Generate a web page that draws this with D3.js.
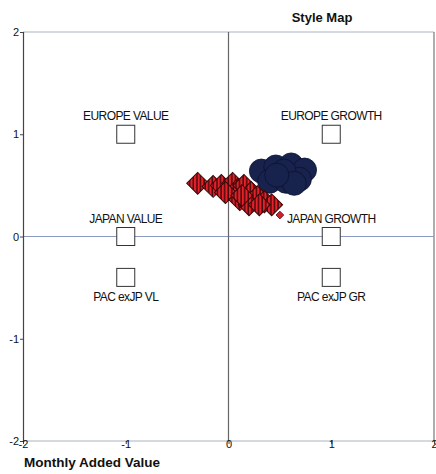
<!DOCTYPE html>
<html><head><meta charset="utf-8">
<script src="https://cdn.jsdelivr.net/npm/d3@7"></script>
<style>
html,body{margin:0;padding:0;background:#fff;}
svg{display:block;font-family:"Liberation Sans",Arial,sans-serif;}
</style></head>
<body><svg id="c" width="436" height="474"></svg>
<script>
// Reference style points
const styleNames = ["EUROPE VALUE","EUROPE GROWTH","JAPAN VALUE","JAPAN GROWTH","PAC exJP VL","PAC exJP GR"];
const styleX = [-1, 1, -1, 1, -1, 1];
const styleY = [1, 1, 0, 0, -0.4, -0.4];
const labelPos = ["above","above","above","above","below","below"];
// Fund history (monthly added value) - diamonds
const fundX = [-0.30,-0.15,-0.07,0.04,0.09,0.15,-0.03,0.11,0.22,0.28,0.35,0.20,0.42,0.13,0.30];
const fundY = [0.52,0.49,0.50,0.52,0.46,0.50,0.43,0.36,0.43,0.39,0.34,0.31,0.31,0.40,0.31];
const latestX = [0.50];
const latestY = [0.21];
// Benchmark history - circles
const benchX = [0.32,0.46,0.61,0.74,0.40,0.56,0.69,0.54,0.64,0.47];
const benchY = [0.64,0.68,0.70,0.65,0.54,0.54,0.56,0.64,0.52,0.60];
const ticks = [-2,-1,0,1,2];

const svg = d3.select("#c");
const L=23, R=434, T=32, B=441;
const x = d3.scaleLinear().domain([-2,2]).range([L,R]);
const y = d3.scaleLinear().domain([-2,2]).range([B,T]);

const defs = svg.append("defs");
const pat = defs.append("pattern").attr("id","stripes").attr("patternUnits","userSpaceOnUse")
  .attr("width",3.6).attr("height",3.6).attr("patternTransform","rotate(45)");
pat.append("rect").attr("width",3.6).attr("height",3.6).attr("fill","#e3222a");
pat.append("rect").attr("width",3.6).attr("height",1.5).attr("fill","#4a0a0c");

// frame
svg.append("line").attr("x1",L).attr("x2",R).attr("y1",T).attr("y2",T).attr("stroke","#aab3c4").attr("stroke-width",1);
svg.append("line").attr("x1",L).attr("x2",R).attr("y1",B).attr("y2",B).attr("stroke","#aab3c4").attr("stroke-width",1);
svg.append("line").attr("x1",R).attr("x2",R).attr("y1",T).attr("y2",B).attr("stroke","#777").attr("stroke-width",1.2);
// zero lines
svg.append("line").attr("x1",L).attr("x2",R).attr("y1",y(0)).attr("y2",y(0)).attr("stroke","#8a9ac0").attr("stroke-width",1);
svg.append("line").attr("x1",x(0)).attr("x2",x(0)).attr("y1",T).attr("y2",B).attr("stroke","#666").attr("stroke-width",1.2);

// axes
const fmt = d => String(d);
const yAxis = d3.axisLeft(y).tickValues(ticks).tickSize(3).tickFormat(fmt);
const gy = svg.append("g").attr("transform",`translate(${L},0)`).call(yAxis);
gy.select(".domain").attr("stroke","#444").attr("stroke-width",1.2);
gy.selectAll("line").attr("stroke","#444");
gy.selectAll("text").attr("font-size",11).attr("fill","#111").attr("dx","2").attr("font-family","Liberation Sans,Arial,sans-serif");

const xAxis = d3.axisBottom(x).tickValues(ticks).tickSize(3).tickFormat(fmt);
const gx = svg.append("g").attr("transform",`translate(0,${B})`).call(xAxis);
gx.select(".domain").remove();
gx.selectAll("line").attr("stroke","#444");
gx.selectAll("text").attr("font-size",11).attr("fill","#111").attr("dy","0.1em").attr("font-family","Liberation Sans,Arial,sans-serif");

// style squares
const sq = 18;
const styles = styleNames.map((n,i)=>({n, x:styleX[i], y:styleY[i], p:labelPos[i]}));
svg.append("g").selectAll("rect").data(styles).join("rect")
  .attr("x",d=>x(d.x)-sq/2).attr("y",d=>y(d.y)-sq/2).attr("width",sq).attr("height",sq)
  .attr("fill","#fff").attr("stroke","#333").attr("stroke-width",1);
svg.append("g").selectAll("text").data(styles).join("text")
  .attr("x",d=>x(d.x)).attr("y",d=>d.p==="above"? y(d.y)-14 : y(d.y)+24)
  .attr("text-anchor","middle").attr("font-size",12).attr("letter-spacing","-0.6")
  .attr("fill","#111").text(d=>d.n);

// benchmark circles
const bench = benchX.map((v,i)=>({x:v,y:benchY[i]}));
svg.append("g").selectAll("circle").data(bench).join("circle")
  .attr("cx",d=>x(d.x)).attr("cy",d=>y(d.y)).attr("r",12)
  .attr("fill","#17224d").attr("stroke","#0b1230").attr("stroke-width",0.8);

// fund diamonds
const fund = fundX.map((v,i)=>({x:v,y:fundY[i]}));
const dsym = d3.symbol().type(d3.symbolSquare).size(240);
svg.append("g").selectAll("path").data(fund).join("path")
  .attr("d",dsym).attr("transform",d=>`translate(${x(d.x)},${y(d.y)}) rotate(45)`)
  .attr("fill","url(#stripes)").attr("stroke","#3a0608").attr("stroke-width",1);
const latest = latestX.map((v,i)=>({x:v,y:latestY[i]}));
svg.append("g").selectAll("path").data(latest).join("path")
  .attr("d",d3.symbol().type(d3.symbolSquare).size(30)).attr("transform",d=>`translate(${x(d.x)},${y(d.y)}) rotate(45)`)
  .attr("fill","#d0202a").attr("stroke","#5a0d10").attr("stroke-width",0.8);

// titles
svg.append("text").attr("x",322).attr("y",22).attr("text-anchor","middle")
  .attr("font-size",13).attr("font-weight","bold").attr("fill","#111").text("Style Map");
svg.append("text").attr("x",24).attr("y",467)
  .attr("font-size",13.5).attr("font-weight","bold").attr("fill","#111").text("Monthly Added Value");
</script></body></html>
